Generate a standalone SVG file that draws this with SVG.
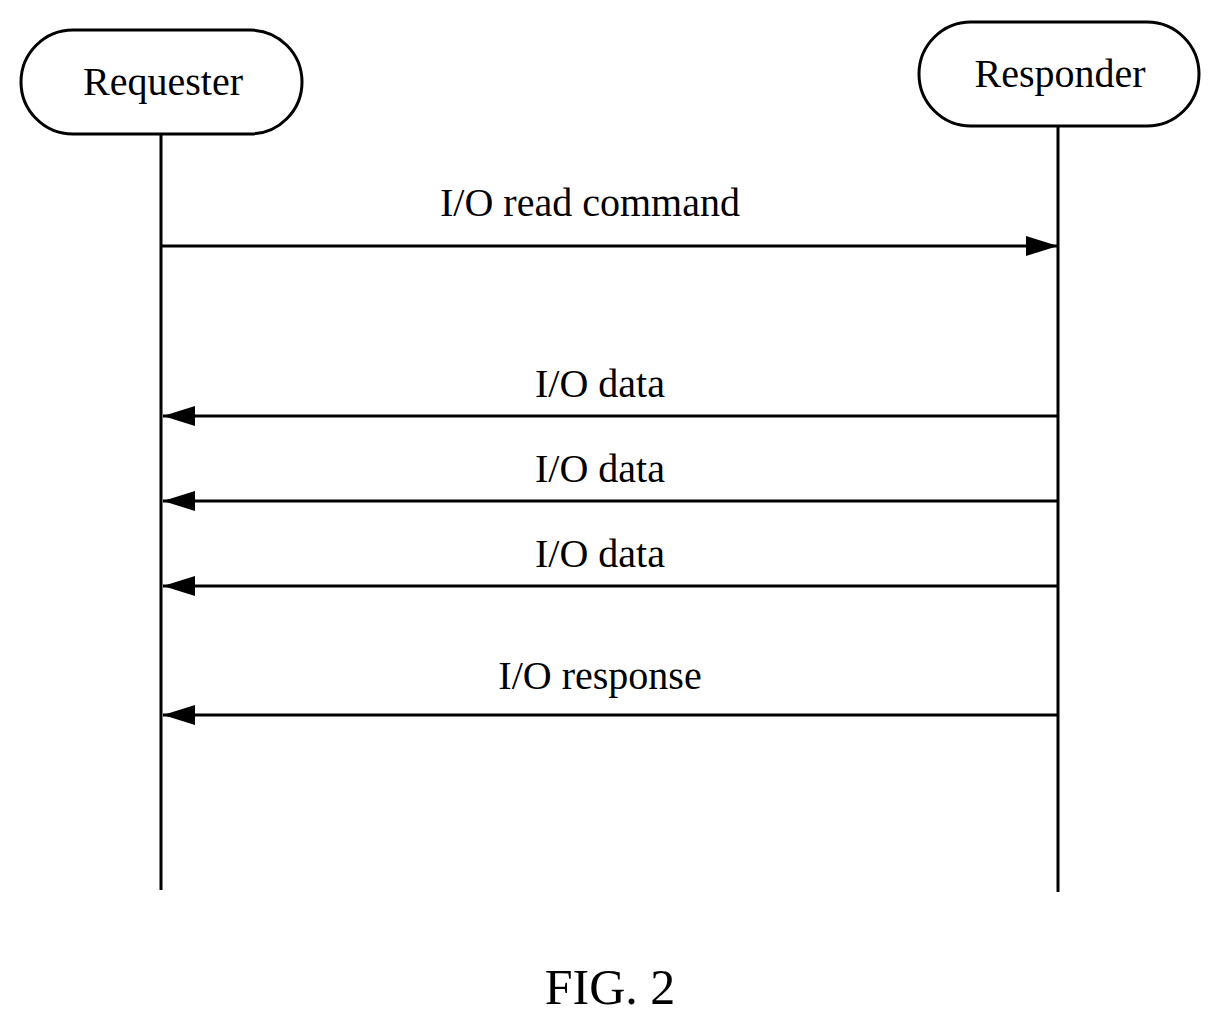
<svg xmlns="http://www.w3.org/2000/svg" width="1221" height="1026" viewBox="0 0 1221 1026">
<style>
.t{font-family:"Liberation Serif",serif;font-size:40px;fill:#000}
.b{fill:#fff;stroke:#000;stroke-width:3}
.l{stroke:#000;stroke-width:3;fill:none}
</style>
<defs><marker id="a" markerWidth="32" markerHeight="20" refX="32" refY="10" orient="auto" markerUnits="userSpaceOnUse"><path d="M0,0L32,10L0,20Z" fill="#000"/></marker></defs>
<rect width="1221" height="1026" fill="#fff"/>
<g id="requester"><rect class="b" x="21" y="30" width="281" height="104" rx="52"/><text class="t" x="163" y="95" text-anchor="middle">Requester</text></g>
<g id="responder"><rect class="b" x="919" y="22" width="280" height="104" rx="52"/><text class="t" x="1060" y="87" text-anchor="middle">Responder</text></g>
<g id="connectors">
<line class="l" x1="161" y1="134" x2="161" y2="890"/>
<line class="l" x1="1058" y1="126" x2="1058" y2="892"/>
<line class="l" x1="161" y1="246" x2="1058" y2="246" marker-end="url(#a)"/>
<line class="l" x1="1058" y1="416" x2="163" y2="416" marker-end="url(#a)"/>
<line class="l" x1="1058" y1="501" x2="163" y2="501" marker-end="url(#a)"/>
<line class="l" x1="1058" y1="586" x2="163" y2="586" marker-end="url(#a)"/>
<line class="l" x1="1058" y1="715" x2="163" y2="715" marker-end="url(#a)"/>
</g>
<text class="t" x="590" y="216" text-anchor="middle">I/O read command</text>
<text class="t" x="600" y="397" text-anchor="middle">I/O data</text>
<text class="t" x="600" y="482" text-anchor="middle">I/O data</text>
<text class="t" x="600" y="567" text-anchor="middle">I/O data</text>
<text class="t" x="600" y="689" text-anchor="middle">I/O response</text>
<text class="t" x="610" y="1004" text-anchor="middle" style="font-size:50px">FIG. 2</text>
</svg>
